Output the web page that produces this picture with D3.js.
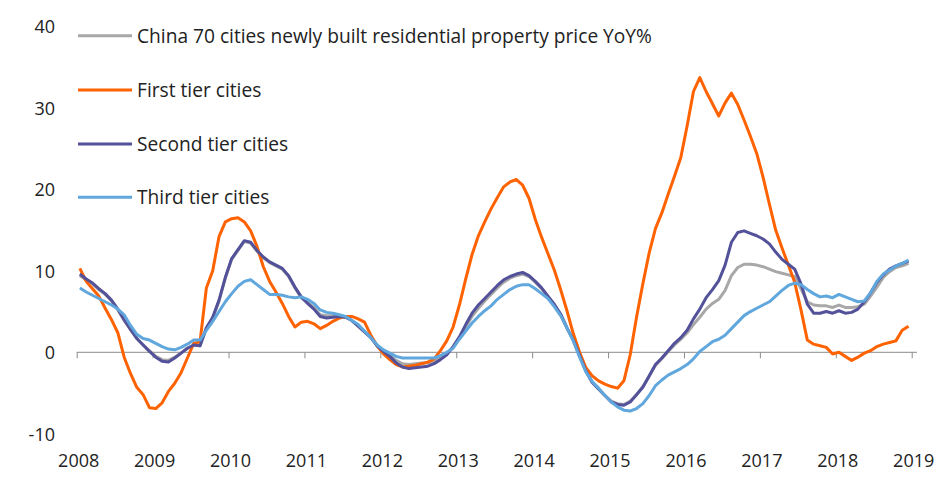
<!DOCTYPE html>
<html>
<head>
<meta charset="utf-8">
<script src="https://cdn.jsdelivr.net/npm/d3@7"></script>
<style>
  html, body { margin: 0; padding: 0; background: #fff; }
  svg { display: block; }
  text { font-family: "Open Sans", Lato, sans-serif; fill: #222; }
</style>
</head>
<body>
<svg id="chart" width="952" height="491"></svg>
<script>
// ---- Data (monthly YoY %, Jan 2008 – Dec 2018) ----
const yearTicks = [2008, 2009, 2010, 2011, 2012, 2013, 2014, 2015, 2016, 2017, 2018, 2019];
const yTicks = [-10, 0, 10, 20, 30, 40];
const months = [];
for (let y = 2008; y <= 2018; y++) for (let m = 1; m <= 12; m++) months.push(y + "-" + String(m).padStart(2, "0"));

const seriesNames = [
  "China 70 cities newly built residential property price YoY%",
  "First tier cities",
  "Second tier cities",
  "Third tier cities"
];

const china70 = [
  9.4, 8.9, 8.4, 7.7, 7.1, 6.3, 5.2, 3.9, 2.8, 1.7, 0.9, 0.2,
  -0.5, -0.9, -1.0, -0.6, -0.1, 0.5, 0.9, 0.8, 2.9, 4.2, 6.3, 9.1,
  11.4, 12.5, 13.6, 13.4, 12.4, 11.6, 11.0, 10.6, 10.2, 9.3, 7.9, 6.7,
  6.1, 5.5, 4.6, 4.5, 4.5, 4.5, 4.3, 3.9, 3.2, 2.5, 1.8, 0.8,
  0.1, -0.4, -1.0, -1.4, -1.5, -1.4, -1.3, -1.3, -1.1, -0.7, -0.2, 0.6,
  1.8, 3.1, 4.4, 5.4, 6.3, 7.1, 7.9, 8.6, 9.1, 9.4, 9.6, 9.3,
  8.6, 7.8, 6.8, 5.8, 4.6, 3.0, 1.5, -0.4, -2.3, -3.7, -4.5, -5.3,
  -6.0, -6.3, -6.4, -6.0, -5.2, -4.2, -2.9, -1.6, -0.8, 0.1, 0.9, 1.6,
  2.4, 3.4, 4.3, 5.3, 6.0, 6.5, 7.6, 9.4, 10.4, 10.8, 10.8, 10.7,
  10.5, 10.2, 9.9, 9.7, 9.5, 9.3, 7.8, 6.2, 5.8, 5.7, 5.7, 5.5,
  5.8, 5.5, 5.5, 5.6, 5.9, 6.9, 8.0, 9.2, 9.9, 10.4, 10.6, 10.9
];

const firstTier = [
  10.3, 8.7, 7.8, 6.9, 5.4, 4.0, 2.4, -0.6, -2.6, -4.3, -5.2, -6.8,
  -6.9, -6.2, -4.8, -3.8, -2.5, -0.7, 1.1, 1.3, 7.9, 10.0, 14.2, 16.0,
  16.4, 16.5, 16.0, 14.9, 13.0, 10.5, 8.7, 7.4, 6.0, 4.4, 3.1, 3.7,
  3.8, 3.5, 2.9, 3.3, 3.8, 4.2, 4.4, 4.4, 4.1, 3.7, 2.1, 0.8,
  -0.2, -0.9, -1.5, -1.8, -1.7, -1.6, -1.4, -1.2, -0.8, 0.2, 1.4, 3.1,
  5.8, 9.0, 12.0, 14.3, 16.0, 17.6, 19.0, 20.3, 20.9, 21.2, 20.5, 18.9,
  16.3, 14.1, 12.1, 10.1, 7.7, 5.1, 2.3, 0.0, -1.9, -2.9, -3.5, -3.9,
  -4.2, -4.4, -3.5, -0.3, 4.3, 8.4, 12.2, 15.2, 17.1, 19.4, 21.6, 23.9,
  27.8, 32.0, 33.7, 32.0, 30.5, 29.0, 30.6, 31.8, 30.4, 28.5, 26.5, 24.4,
  21.5, 18.2, 15.0, 12.8, 10.7, 8.6, 5.2, 1.5, 1.0, 0.8, 0.6, -0.2,
  0.0, -0.5, -1.0, -0.6, -0.1, 0.2, 0.7, 1.0, 1.2, 1.4, 2.7, 3.2
];

const secondTier = [
  9.6, 9.0, 8.5, 7.8, 7.2, 6.4, 5.3, 4.0, 2.8, 1.7, 0.9, 0.1,
  -0.6, -1.1, -1.2, -0.7, -0.1, 0.5, 0.9, 0.8, 3.0, 4.3, 6.4, 9.2,
  11.5, 12.6, 13.7, 13.5, 12.5, 11.7, 11.1, 10.7, 10.3, 9.4, 8.0, 6.8,
  6.0, 5.3, 4.4, 4.2, 4.3, 4.4, 4.3, 3.9, 3.2, 2.5, 1.8, 0.8,
  0.1, -0.5, -1.3, -1.8, -2.0, -1.9, -1.8, -1.7, -1.4, -0.9, -0.3, 0.7,
  1.9, 3.4, 4.8, 5.8, 6.6, 7.4, 8.2, 8.9, 9.3, 9.6, 9.8, 9.4,
  8.7, 7.9, 6.9, 5.9, 4.7, 3.0, 1.5, -0.4, -2.3, -3.7, -4.5, -5.3,
  -6.1, -6.4, -6.5, -6.1, -5.2, -4.3, -2.9, -1.5, -0.7, 0.2, 1.1, 1.8,
  2.7, 4.1, 5.3, 6.7, 7.7, 8.8, 10.7, 13.5, 14.7, 14.9, 14.6, 14.3,
  13.9, 13.3, 12.3, 11.4, 10.8, 10.2, 8.4, 5.9, 4.8, 4.8, 5.0, 4.8,
  5.1, 4.8, 4.9, 5.3, 6.2, 7.3, 8.6, 9.5, 10.2, 10.6, 10.9, 11.2
];

const thirdTier = [
  7.9, 7.4, 7.0, 6.6, 6.2, 5.8, 5.3, 4.6, 3.3, 2.2, 1.7, 1.5,
  1.1, 0.7, 0.4, 0.3, 0.6, 1.0, 1.5, 1.5, 2.7, 3.8, 5.0, 6.2,
  7.2, 8.1, 8.7, 8.9, 8.3, 7.7, 7.1, 7.1, 7.0, 6.8, 6.7, 6.8,
  6.5, 6.0, 5.2, 4.9, 4.8, 4.6, 4.4, 3.9, 3.4, 2.6, 1.8, 0.9,
  0.3, -0.1, -0.5, -0.7, -0.7, -0.7, -0.7, -0.7, -0.7, -0.4, 0.0, 0.5,
  1.6, 2.6, 3.6, 4.4, 5.1, 5.7, 6.5, 7.1, 7.7, 8.1, 8.3, 8.3,
  7.8, 7.2, 6.6, 5.6, 4.5, 3.0, 1.4, -0.6, -2.4, -3.6, -4.4, -5.3,
  -6.1, -6.7, -7.1, -7.2, -6.9, -6.3, -5.3, -4.1, -3.4, -2.8, -2.4, -2.0,
  -1.5, -0.8, 0.1, 0.7, 1.3, 1.6, 2.1, 2.9, 3.7, 4.5, 5.0, 5.4,
  5.8, 6.2, 6.9, 7.6, 8.2, 8.5, 8.3, 7.7, 7.2, 6.8, 6.9, 6.7,
  7.1, 6.8, 6.5, 6.2, 6.3, 7.3, 8.7, 9.6, 10.1, 10.6, 10.9, 11.3
];

const colors = ["#a8a8a8", "#ff6200", "#525199", "#60a7de"];

// ---- Layout ----
const svg = d3.select("#chart");
const x = d3.scaleLinear().domain([2008, 2019]).range([76.7, 911.7]);
const y = d3.scaleLinear().domain([-10, 40]).range([433.8, 26.3]);

function monthPos(label) {
  const [yy, mm] = label.split("-").map(Number);
  return yy + (mm - 0.5) / 12;
}

// Zero axis line with downward year ticks
const xAxis = d3.axisBottom(x)
  .tickValues(yearTicks)
  .tickSize(6)
  .tickSizeOuter(0)
  .tickFormat("");
const gx = svg.append("g")
  .attr("transform", `translate(0,${y(0)})`)
  .call(xAxis);
gx.select(".domain").attr("stroke", "#8c8c8c").attr("d", `M${x(2008)},0H917`);
gx.selectAll(".tick line").attr("stroke", "#8c8c8c");

// Year labels at bottom
svg.append("g").selectAll("text")
  .data(yearTicks)
  .join("text")
  .attr("x", d => x(d) + 2)
  .attr("y", 466.5)
  .attr("text-anchor", "middle")
  .attr("font-size", "18px")
  .text(d => d);

// Y labels
const yAxis = d3.axisLeft(y).tickValues(yTicks).tickSize(0).tickPadding(0).tickFormat(d => String(d));
const gy = svg.append("g").attr("transform", "translate(55,0)").call(yAxis);
gy.select(".domain").remove();
gy.selectAll("text")
  .attr("font-size", "18px")
  .attr("font-family", "'Open Sans', Lato, sans-serif")
  .attr("fill", "#222")
  .attr("dy", "0.36em");

// Lines
const allSeries = [china70, firstTier, secondTier, thirdTier];
const line = d3.line()
  .x((d, i) => x(monthPos(months[i])))
  .y(d => y(d));

svg.append("g").selectAll("path")
  .data(allSeries)
  .join("path")
  .attr("fill", "none")
  .attr("stroke", (d, i) => colors[i])
  .attr("stroke-width", 3)
  .attr("stroke-linejoin", "round")
  .attr("stroke-linecap", "butt")
  .attr("d", d => line(d));

// Legend
const legendY = [35.7, 90, 144, 197.3];
const lg = svg.append("g").selectAll("g")
  .data(seriesNames)
  .join("g")
  .attr("transform", (d, i) => `translate(78,${legendY[i]})`);
lg.append("line")
  .attr("x1", 0).attr("x2", 54)
  .attr("stroke", (d, i) => colors[i])
  .attr("stroke-width", 3);
const legendText = lg.append("text")
  .attr("x", 59)
  .attr("dy", "0.36em")
  .attr("font-size", "18px")
  .text(d => d);
// fit the longest legend label to the reference width (~515px)
const w0 = legendText.nodes()[0].getComputedTextLength();
const fs = Math.max(16, Math.min(20, 18 * 515 / w0));
legendText.attr("font-size", fs + "px");
</script>
</body>
</html>
